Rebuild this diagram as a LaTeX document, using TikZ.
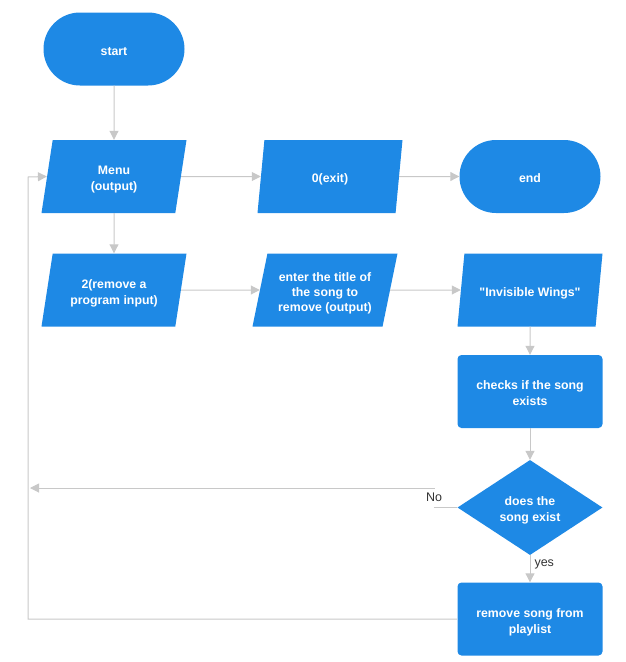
\documentclass[tikz,border=0pt]{standalone}
\usepackage{fontspec}
\setmainfont{Liberation Sans}
\usetikzlibrary{shapes.geometric,shapes.misc,arrows.meta}
\definecolor{flowblue}{RGB}{30,137,229}
\definecolor{linegray}{RGB}{200,200,200}
% struts that push the block text a little below the geometric centre
\newcommand{\topstrt}{\rule{0pt}{17pt}}
\newcommand{\botstrt}{\rule[-4.8pt]{0pt}{4.8pt}}
\tikzset{
  base/.style={fill=flowblue, text=white, align=center,
    font=\bfseries\fontsize{12.3}{16}\selectfont, inner sep=2pt,
    minimum width=145pt, minimum height=73pt},
  terminal/.style={base, rounded rectangle},
  io/.style={base, trapezium, trapezium left angle=75, trapezium right angle=105,
    trapezium stretches body, minimum width=145pt},
  process/.style={base, rectangle, rounded corners=4pt},
  decision/.style={base, diamond, aspect=1.53, minimum width=145pt, minimum height=95pt, inner sep=0pt},
  flow/.style={draw=linegray, line width=1pt, -{Triangle[length=9pt,width=9pt]}},
  lbl/.style={font=\fontsize{12.5}{15}\selectfont, text=black!80, inner sep=1pt}
}
\begin{document}
\begin{tikzpicture}[x=1pt,y=-1pt]
\useasboundingbox (0,0) rectangle (625,662);
% flowchart blocks
\node[terminal] (start) at (114,49) {\topstrt start\botstrt};
\node[io] (menu) at (114,176.5) {\topstrt Menu\\(output)\botstrt};
\node[io] (exit) at (330,176.5) {\topstrt 0(exit)\botstrt};
\node[terminal] (end) at (530,176.5) {\topstrt end\botstrt};
\node[io] (remove) at (114,290) {\topstrt 2(remove a\\program input)\botstrt};
\node[io, font=\bfseries\fontsize{12.3}{15}\selectfont] (title) at (325,290) {\topstrt enter the title of\\the song to\\remove (output)\botstrt};
\node[io] (wings) at (530,290) {\topstrt\textquotedbl Invisible Wings\textquotedbl\botstrt};
\node[process] (check) at (530,391.5) {\topstrt checks if the song\\exists\botstrt};
\node[decision] (exists) at (530,507.5) {\topstrt does the\\song exist\botstrt};
\node[process] (drop) at (530,619) {\topstrt remove song from\\playlist\botstrt};

% bend points of the two return lines
\coordinate (noturn) at (434,507.5);
\coordinate (noend) at (30,488);
\coordinate (loopb) at (28,619);
\coordinate (loopt) at (28,177);

\draw[flow] (start) -- (menu);
\draw[flow] (menu) -- (exit);
\draw[flow] (exit) -- (end);
\draw[flow] (menu) -- (remove);
\draw[flow] (remove) -- (title);
\draw[flow] (title) -- (wings);
\draw[flow] (wings) -- (check);
\draw[flow] (check) -- (exists);
\draw[flow] (exists) -- node[lbl, right, pos=0.35, xshift=3pt] (yeslbl) {yes} (drop);
\draw[flow] (exists.west) -- (noturn) |- (noend);
\node[lbl, fill=white, minimum height=18pt, anchor=center] (nolbl) at (434,497.5) {No};
\draw[flow] (drop.west) -- (loopb) -- (loopt) -- (menu.west);
\end{tikzpicture}
\end{document}
